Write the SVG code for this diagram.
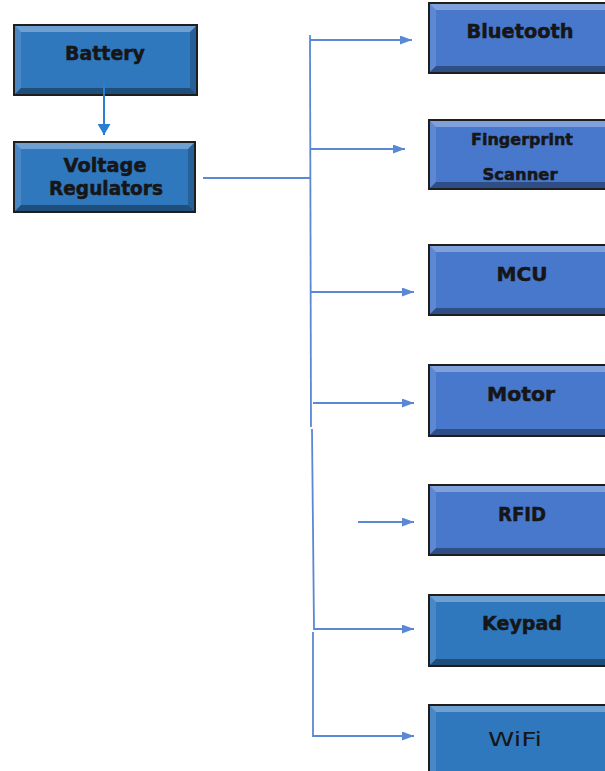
<svg xmlns="http://www.w3.org/2000/svg" width="605" height="771" viewBox="0 0 605 771">
<defs>
<style>
.a{fill:#3078be}
.b{fill:#4878cc}
.box{stroke:#1e1e1e;stroke-width:2}
.bt{fill:#ffffff;fill-opacity:0.3}
.bl{fill:#ffffff;fill-opacity:0.12}
.bb{fill:#000000;fill-opacity:0.35}
.br{fill:#000000;fill-opacity:0.2}
.t{font-family:"DejaVu Sans",Verdana,sans-serif;font-weight:bold;font-size:19px;fill:#161616;stroke:#161616;stroke-width:0.5;text-anchor:middle}
.ts{font-size:16px}
.tw{font-family:"DejaVu Sans",sans-serif;font-weight:normal;font-size:20px;fill:#161616;text-anchor:middle}
.c{fill:none;stroke:#5a88d2;stroke-width:1.8}
.c2{fill:none;stroke:#2a80d0;stroke-width:2}
</style>
<marker id="ah" markerWidth="12" markerHeight="9" refX="12" refY="4.5" orient="auto" markerUnits="userSpaceOnUse">
<path d="M0,0 L12,4.5 L0,9 Z" fill="#5a88d2"/>
</marker>
<marker id="ah2" markerWidth="11" markerHeight="13" refX="11" refY="6.5" orient="auto" markerUnits="userSpaceOnUse">
<path d="M0,0 L11,6.5 L0,13 Z" fill="#2a80d0"/>
</marker>
</defs>
<rect width="605" height="771" fill="#ffffff"/>

<g id="battery">
<rect class="a box" x="14" y="25" width="183" height="70"/>
<polygon class="bt" points="15,26 196,26 190,32 21,32"/>
<polygon class="bl" points="15,26 21,32 21,88 15,94"/>
<polygon class="bb" points="15,94 196,94 190,88 21,88"/>
<polygon class="br" points="196,26 196,94 190,88 190,32"/>
<text class="t" x="105" y="60" textLength="80" lengthAdjust="spacingAndGlyphs">Battery</text>
</g>

<g id="voltage-regulators">
<rect class="a box" x="14" y="142" width="181" height="70"/>
<polygon class="bt" points="15,143 194,143 188,149 21,149"/>
<polygon class="bl" points="15,143 21,149 21,205 15,211"/>
<polygon class="bb" points="15,211 194,211 188,205 21,205"/>
<polygon class="br" points="194,143 194,211 188,205 188,149"/>
<text class="t" x="105" y="172" textLength="83" lengthAdjust="spacingAndGlyphs">Voltage</text>
<text class="t" x="106" y="195" textLength="114" lengthAdjust="spacingAndGlyphs">Regulators</text>
</g>

<g id="bluetooth">
<rect class="b box" x="429" y="3" width="190" height="70"/>
<polygon class="bt" points="430,4 618,4 612,10 436,10"/>
<polygon class="bl" points="430,4 436,10 436,66 430,72"/>
<polygon class="bb" points="430,72 618,72 612,66 436,66"/>
<text class="t" x="520" y="38" textLength="107" lengthAdjust="spacingAndGlyphs">Bluetooth</text>
</g>

<g id="fingerprint-scanner">
<rect class="b box" x="429" y="120" width="190" height="69"/>
<polygon class="bt" points="430,121 618,121 612,127 436,127"/>
<polygon class="bl" points="430,121 436,127 436,182 430,188"/>
<polygon class="bb" points="430,188 618,188 612,182 436,182"/>
<text class="t ts" x="522" y="145" textLength="102" lengthAdjust="spacingAndGlyphs">Fingerprint</text>
<text class="t ts" x="520" y="180" textLength="75" lengthAdjust="spacingAndGlyphs">Scanner</text>
</g>

<g id="mcu">
<rect class="b box" x="429" y="245" width="190" height="70"/>
<polygon class="bt" points="430,246 618,246 612,252 436,252"/>
<polygon class="bl" points="430,246 436,252 436,308 430,314"/>
<polygon class="bb" points="430,314 618,314 612,308 436,308"/>
<text class="t" x="522" y="281" textLength="51" lengthAdjust="spacingAndGlyphs">MCU</text>
</g>

<g id="motor">
<rect class="b box" x="429" y="365" width="190" height="71"/>
<polygon class="bt" points="430,366 618,366 612,372 436,372"/>
<polygon class="bl" points="430,366 436,372 436,429 430,435"/>
<polygon class="bb" points="430,435 618,435 612,429 436,429"/>
<text class="t" x="521" y="401" textLength="68" lengthAdjust="spacingAndGlyphs">Motor</text>
</g>

<g id="rfid">
<rect class="b box" x="429" y="485" width="190" height="70"/>
<polygon class="bt" points="430,486 618,486 612,492 436,492"/>
<polygon class="bl" points="430,486 436,492 436,548 430,554"/>
<polygon class="bb" points="430,554 618,554 612,548 436,548"/>
<text class="t" x="522" y="521" textLength="48" lengthAdjust="spacingAndGlyphs">RFID</text>
</g>

<g id="keypad">
<rect class="a box" x="429" y="595" width="190" height="71"/>
<polygon class="bt" points="430,596 618,596 612,602 436,602"/>
<polygon class="bl" points="430,596 436,602 436,659 430,665"/>
<polygon class="bb" points="430,665 618,665 612,659 436,659"/>
<text class="t" x="522" y="630" textLength="80" lengthAdjust="spacingAndGlyphs">Keypad</text>
</g>

<g id="wifi">
<rect class="a box" x="429" y="705" width="190" height="72"/>
<polygon class="bt" points="430,706 618,706 612,712 436,712"/>
<polygon class="bl" points="430,706 436,712 436,771 430,771"/>
<text class="tw" x="515" y="746" textLength="54" lengthAdjust="spacingAndGlyphs">WiFi</text>
</g>

<g id="connectors">
<line class="c2" x1="104" y1="83" x2="104" y2="135" marker-end="url(#ah2)"/>
<line class="c" x1="203" y1="178" x2="311" y2="178"/>
<line class="c" x1="310" y1="35" x2="311" y2="427"/>
<polyline class="c" points="312,429 314,629 414,629" marker-end="url(#ah)"/>
<line class="c" x1="310" y1="40" x2="412" y2="40" marker-end="url(#ah)"/>
<line class="c" x1="310" y1="149" x2="405" y2="149" marker-end="url(#ah)"/>
<line class="c" x1="310" y1="292" x2="414" y2="292" marker-end="url(#ah)"/>
<line class="c" x1="313" y1="403" x2="414" y2="403" marker-end="url(#ah)"/>
<line class="c" x1="358" y1="522" x2="414" y2="522" marker-end="url(#ah)"/>
<polyline class="c" points="313,632 313,736 414,736" marker-end="url(#ah)"/>
</g>
</svg>
